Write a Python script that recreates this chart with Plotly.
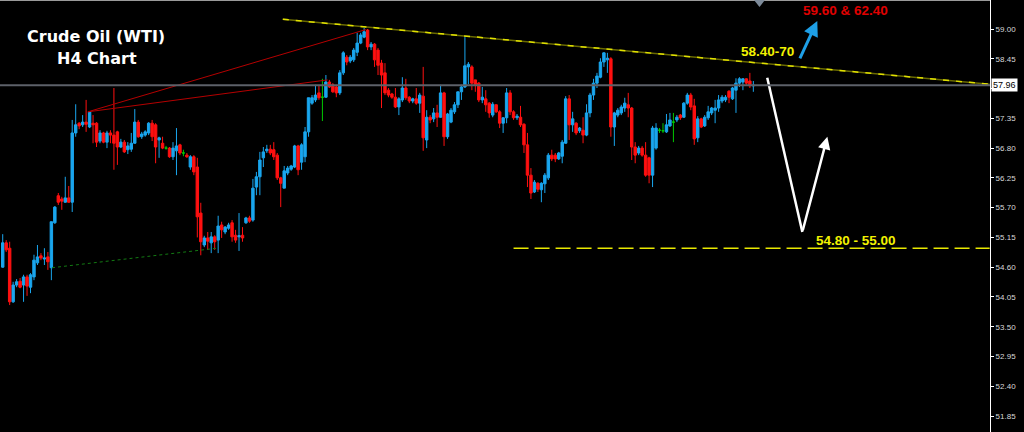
import plotly.graph_objects as go

# H4 candles (price units)
OPEN = [
    54.60, 55.05, 54.95, 53.96, 54.27, 54.34, 54.27, 54.42, 54.23, 54.42,
    54.68, 54.81, 54.75, 54.79, 54.59, 55.42, 55.92, 55.86, 55.80, 55.88,
    55.80, 57.08, 57.26, 57.23, 57.28, 57.19, 57.26, 57.26, 56.93, 57.08,
    56.91, 57.08, 57.04, 57.10, 56.82, 56.91, 56.77, 56.78, 56.89, 57.28,
    57.01, 57.04, 57.08, 57.26, 57.23, 56.95, 56.89, 56.80, 56.80, 56.64,
    56.75, 56.86, 56.71, 56.67, 56.45, 56.64, 56.45, 55.60, 55.01, 55.14,
    55.05, 55.16, 55.10, 55.38, 55.25, 55.32, 55.42, 55.19, 55.16, 55.19,
    55.42, 55.51, 55.47, 56.08, 56.27, 56.62, 56.75, 56.78, 56.77, 56.67,
    56.25, 56.06, 56.34, 56.41, 56.45, 56.84, 56.54, 56.64, 57.10, 57.63,
    57.69, 57.82, 57.74, 57.74, 58.02, 57.97, 57.93, 57.82, 58.19, 58.48,
    58.41, 58.43, 58.57, 58.74, 58.85, 58.98, 58.67, 58.72, 58.61, 58.37,
    58.19, 57.87, 57.80, 57.74, 57.56, 57.69, 57.91, 57.74, 57.67, 57.71,
    57.63, 57.76, 56.95, 57.37, 57.34, 57.45, 57.37, 57.82, 57.01, 57.28,
    57.47, 57.60, 57.84, 57.93, 58.30, 58.30, 58.06, 58.00, 57.69, 57.71,
    57.63, 57.41, 57.60, 57.47, 57.26, 57.36, 57.82, 57.47, 57.36, 57.37,
    57.24, 56.86, 56.30, 55.99, 56.15, 56.03, 56.14, 56.25, 56.67, 56.67,
    56.60, 56.65, 56.89, 57.71, 57.23, 57.26, 57.12, 57.13, 57.04, 57.45,
    57.78, 58.00, 58.11, 58.39, 58.43, 58.45, 57.19, 57.41, 57.45, 57.54,
    57.60, 57.54, 56.82, 56.71, 56.80, 56.67, 56.62, 56.30, 56.80, 57.13,
    57.12, 57.10, 57.21, 57.28, 57.32, 57.41, 57.37, 57.63, 57.78, 57.58,
    56.99, 57.34, 57.21, 57.36, 57.45, 57.50, 57.54, 57.67, 57.69, 57.85,
    57.71, 57.87, 58.00, 58.02, 58.08, 58.04, 57.95,
]
HIGH = [
    55.21, 55.10, 55.07, 54.33, 54.38, 54.40, 54.46, 54.46, 54.49, 54.83,
    55.01, 54.86, 54.95, 54.88, 55.44, 55.73, 55.97, 55.90, 56.27, 56.10,
    57.32, 57.61, 57.28, 57.41, 57.69, 57.47, 57.41, 57.28, 57.13, 57.10,
    57.12, 57.13, 57.91, 57.12, 56.97, 56.95, 56.91, 57.08, 57.52, 57.32,
    57.10, 57.13, 57.28, 57.32, 57.26, 57.01, 57.01, 56.84, 56.82, 56.91,
    57.17, 56.88, 56.77, 56.71, 56.67, 56.67, 56.62, 55.79, 55.18, 55.25,
    55.25, 55.19, 55.55, 55.44, 55.36, 55.42, 55.47, 55.29, 55.60, 55.34,
    55.53, 55.55, 56.23, 56.36, 56.73, 56.82, 56.86, 56.86, 56.91, 56.71,
    56.27, 56.47, 56.47, 56.49, 56.86, 56.86, 56.89, 57.19, 57.73, 57.78,
    57.97, 57.97, 58.08, 58.15, 58.06, 58.00, 57.97, 58.24, 58.59, 58.52,
    58.52, 58.65, 58.93, 58.93, 59.02, 59.00, 58.76, 58.74, 58.65, 58.43,
    58.37, 57.91, 57.82, 57.91, 57.74, 58.11, 58.08, 57.76, 57.73, 57.91,
    57.82, 58.30, 57.50, 57.41, 57.54, 57.60, 57.97, 57.84, 57.45, 57.54,
    57.65, 57.84, 57.97, 58.85, 58.39, 58.33, 58.06, 58.02, 57.93, 57.87,
    57.65, 57.65, 57.61, 57.50, 57.37, 57.91, 57.87, 57.50, 57.43, 57.58,
    57.26, 57.08, 56.43, 56.21, 56.17, 56.17, 56.34, 56.71, 56.77, 56.71,
    56.73, 56.95, 57.76, 57.78, 57.47, 57.28, 57.19, 57.37, 57.61, 57.82,
    58.08, 58.19, 58.46, 58.57, 58.56, 58.48, 57.47, 57.54, 57.60, 57.73,
    57.82, 57.56, 56.91, 56.84, 56.84, 56.91, 56.64, 57.21, 57.26, 57.17,
    57.26, 57.43, 57.45, 57.45, 57.41, 57.43, 57.65, 57.82, 57.82, 57.71,
    57.39, 57.36, 57.41, 57.58, 57.56, 57.69, 57.78, 57.78, 57.78, 57.87,
    57.93, 58.09, 58.11, 58.09, 58.09, 58.19, 58.04,
]
LOW = [
    54.59, 54.88, 53.90, 53.94, 54.23, 54.21, 53.96, 54.07, 54.12, 54.36,
    54.64, 54.73, 54.64, 54.55, 54.36, 55.40, 55.75, 55.66, 55.79, 55.79,
    55.62, 57.01, 57.15, 57.19, 57.10, 57.17, 56.89, 56.82, 56.89, 56.89,
    56.80, 56.89, 56.40, 56.49, 56.80, 56.71, 56.69, 56.73, 56.88, 56.99,
    56.97, 57.01, 57.04, 56.93, 56.52, 56.62, 56.78, 56.77, 56.62, 56.58,
    56.30, 56.67, 56.65, 56.62, 56.40, 56.30, 55.15, 54.82, 54.97, 54.92,
    54.86, 54.92, 54.86, 55.14, 55.21, 55.29, 55.07, 55.05, 54.90, 55.07,
    55.40, 55.42, 55.44, 55.93, 55.93, 56.45, 56.71, 56.67, 56.58, 56.21,
    55.71, 56.06, 56.30, 56.38, 56.43, 56.30, 56.40, 56.54, 57.01, 57.60,
    57.65, 57.69, 57.30, 57.73, 57.91, 57.82, 57.74, 57.78, 58.15, 58.33,
    58.37, 58.39, 58.50, 58.72, 58.83, 58.61, 58.61, 58.30, 58.15, 57.54,
    57.78, 57.74, 57.71, 57.54, 57.41, 57.65, 57.69, 57.63, 57.63, 57.60,
    57.45, 56.75, 56.80, 57.26, 57.28, 57.19, 57.36, 56.84, 56.97, 57.26,
    57.43, 57.54, 57.69, 57.91, 57.98, 57.87, 57.84, 57.65, 57.63, 57.47,
    57.36, 57.37, 57.45, 57.17, 57.08, 57.26, 57.41, 57.32, 57.32, 57.19,
    56.71, 56.08, 55.86, 55.97, 55.99, 55.80, 55.97, 56.21, 56.56, 56.54,
    56.58, 56.52, 56.88, 56.95, 57.10, 57.04, 57.08, 56.89, 57.02, 57.37,
    57.69, 57.91, 58.09, 58.30, 58.19, 57.01, 56.84, 57.37, 57.41, 57.47,
    57.37, 56.58, 56.52, 56.67, 56.64, 56.27, 56.15, 56.08, 56.77, 57.08,
    57.08, 57.08, 57.19, 56.91, 57.28, 57.32, 57.36, 57.60, 57.50, 56.86,
    56.91, 57.17, 57.19, 57.32, 57.41, 57.26, 57.47, 57.63, 57.65, 57.63,
    57.69, 57.45, 57.93, 57.87, 57.97, 57.91, 57.84,
]
CLOSE = [
    55.05, 54.92, 53.96, 54.27, 54.33, 54.23, 54.42, 54.25, 54.46, 54.73,
    54.79, 54.77, 54.77, 54.70, 55.44, 55.71, 55.80, 55.82, 55.88, 55.80,
    57.08, 57.23, 57.21, 57.28, 57.24, 57.47, 57.23, 56.91, 57.08, 56.91,
    57.08, 57.04, 56.89, 56.82, 56.91, 56.73, 56.84, 56.89, 57.28, 57.01,
    57.06, 57.10, 57.26, 57.01, 56.82, 56.99, 56.80, 56.80, 56.64, 56.80,
    56.84, 56.71, 56.71, 56.64, 56.64, 56.36, 55.53, 55.07, 55.14, 55.08,
    55.16, 55.07, 55.36, 55.29, 55.34, 55.38, 55.16, 55.10, 55.18, 55.14,
    55.51, 55.45, 56.06, 56.27, 56.58, 56.73, 56.78, 56.71, 56.64, 56.25,
    56.15, 56.38, 56.43, 56.47, 56.84, 56.40, 56.86, 57.10, 57.73, 57.73,
    57.78, 57.73, 57.74, 58.02, 57.93, 57.84, 57.82, 58.19, 58.56, 58.39,
    58.48, 58.61, 58.74, 58.89, 58.95, 58.67, 58.72, 58.43, 58.33, 58.15,
    57.82, 57.78, 57.74, 57.56, 57.71, 57.91, 57.73, 57.67, 57.71, 57.63,
    57.78, 56.99, 57.37, 57.32, 57.45, 57.37, 57.82, 57.01, 57.43, 57.50,
    57.60, 57.84, 57.93, 58.32, 58.35, 58.00, 57.97, 57.69, 57.74, 57.60,
    57.45, 57.61, 57.47, 57.26, 57.36, 57.82, 57.47, 57.36, 57.39, 57.23,
    56.86, 56.30, 55.97, 56.17, 56.04, 56.15, 56.30, 56.67, 56.60, 56.60,
    56.71, 56.91, 57.71, 57.23, 57.34, 57.08, 57.17, 57.04, 57.45, 57.78,
    58.00, 58.13, 58.39, 58.56, 58.46, 57.19, 57.45, 57.50, 57.56, 57.63,
    57.54, 56.82, 56.67, 56.80, 56.67, 56.30, 56.30, 57.17, 57.17, 57.13,
    57.12, 57.23, 57.32, 57.28, 57.37, 57.36, 57.63, 57.78, 57.56, 56.97,
    57.34, 57.19, 57.37, 57.47, 57.54, 57.54, 57.69, 57.74, 57.74, 57.74,
    57.91, 58.00, 58.08, 58.08, 58.00, 57.95, 57.96,
]

PRICE_TICKS = [59.00, 58.45, 57.90, 57.35, 56.80, 56.25, 55.70,
               55.15, 54.60, 54.05, 53.50, 52.95, 52.40, 51.85]
LAST_PRICE = 57.96
SUPPORT_LEVEL = 54.95

# drawn studies, (bar index, price)
TREND_X, TREND_Y = [80.6, 284.0], [59.18, 57.98]
RED_A_X, RED_A_Y = [24.5, 104.5], [57.47, 58.99]
RED_B_X, RED_B_Y = [24.5, 93.5], [57.47, 58.06]
GREEN_X, GREEN_Y = [14.2, 61.6], [54.59, 54.95]
DOWN_LEG_X, DOWN_LEG_Y = [220.0, 230.1], [58.10, 55.25]
UP_LEG_X, UP_LEG_Y = [230.1, 237.3], [55.25, 57.01]
BREAK_X, BREAK_Y = [229.2, 234.4], [58.43, 59.15]

BLUE = "#1aa6ee"
RED = "#ff1010"
GREEN = "#00c800"
PLOT_W, H = 990, 432


def fx(px):
    return px / PLOT_W


def fy(py):
    return 1 - py / H


def candles(ids, color):
    style = dict(line=dict(color=color, width=1), fillcolor=color)
    return go.Candlestick(
        x=ids,
        open=[OPEN[i] for i in ids], high=[HIGH[i] for i in ids],
        low=[LOW[i] for i in ids], close=[CLOSE[i] for i in ids],
        increasing=style, decreasing=style,
        whiskerwidth=0, hoverinfo="skip", showlegend=False,
    )


idx = range(len(CLOSE))
up = [i for i in idx if CLOSE[i] > OPEN[i]]
down = [i for i in idx if CLOSE[i] < OPEN[i]]
doji = [i for i in idx if CLOSE[i] == OPEN[i]]

fig = go.Figure([candles(up, BLUE), candles(down, RED), candles(doji, GREEN)])


def seg(xs, ys, color, width, dash="solid"):
    fig.add_trace(go.Scatter(
        x=xs, y=ys, mode="lines", hoverinfo="skip", showlegend=False,
        line=dict(color=color, width=width, dash=dash),
    ))


seg(RED_A_X, RED_A_Y, "#b40000", 1)
seg(RED_B_X, RED_B_Y, "#b40000", 1)
seg(GREEN_X, GREEN_Y, "#137a13", 1, "dot")
seg(TREND_X, TREND_Y, "#6a6a00", 1.5)
seg(TREND_X, TREND_Y, "#e0e000", 1.5, "6px,7px")
seg([147.0, 284.0], [SUPPORT_LEVEL, SUPPORT_LEVEL], "#e8e800", 1.3, "15px,6px")
seg(DOWN_LEG_X, DOWN_LEG_Y, "white", 2.5)

fig.add_shape(type="line", xref="paper", x0=0, x1=1, yref="y",
              y0=LAST_PRICE, y1=LAST_PRICE, line=dict(color="#5d6169", width=2))
fig.add_shape(type="line", xref="paper", x0=0, x1=1, yref="paper",
              y0=fy(0.5), y1=fy(0.5), line=dict(color="#9a9a9a", width=1))
fig.add_shape(type="path", xref="paper", yref="paper", fillcolor="#7d8a99",
              line=dict(width=0),
              path=f"M {fx(754)},{fy(0)} L {fx(765)},{fy(0)} L {fx(759.5)},{fy(7)} Z")

arrow = dict(xref="x", yref="y", axref="x", ayref="y", text="", showarrow=True,
             arrowhead=2, arrowsize=1)
fig.add_annotation(x=UP_LEG_X[1], y=UP_LEG_Y[1], ax=UP_LEG_X[0], ay=UP_LEG_Y[0],
                   arrowcolor="white", arrowwidth=2.5, **arrow)
fig.add_annotation(x=BREAK_X[1], y=BREAK_Y[1], ax=BREAK_X[0], ay=BREAK_Y[0],
                   arrowcolor="#1e9fe6", arrowwidth=3, **arrow)

bold = "Liberation Sans, Arial, sans-serif"
wide = "DejaVu Sans, Verdana, sans-serif"
texts = [
    ("Crude Oil (WTI)", 96, 36, "white", 16, wide),
    ("H4 Chart", 97, 58, "white", 16, wide),
    ("58.40-70", 767, 51, "#f2f200", 13.5, bold),
    ("59.60 & 62.40", 845, 11, "#e00000", 13.5, bold),
    ("54.80 - 55.00", 856, 240, "#f2f200", 13.5, bold),
]
for txt, x, y, color, size, family in texts:
    fig.add_annotation(
        xref="paper", yref="paper", x=fx(x), y=fy(y), showarrow=False,
        xanchor="center", yanchor="middle",
        text=f"<b>{txt}</b>", font=dict(family=family, size=size, color=color),
    )

fig.add_annotation(
    xref="paper", yref="y", x=1, y=LAST_PRICE, xanchor="left", xshift=1,
    showarrow=False, text=f"{LAST_PRICE:.2f}", bgcolor="white",
    font=dict(family=bold, size=9, color="black"), borderpad=1,
)

# the 57.90 label sits under the last-price box, as on the terminal
tick_text = ["" if abs(v - 57.90) < 1e-9 else f"{v:.2f}" for v in PRICE_TICKS]

fig.update_layout(
    width=1024, height=432,
    paper_bgcolor="black", plot_bgcolor="black",
    margin=dict(l=0, r=34, t=0, b=0),
    boxgap=0.3, boxgroupgap=0,
    showlegend=False,
    xaxis=dict(range=[-0.78, 284.1], visible=False, rangeslider=dict(visible=False)),
    yaxis=dict(
        range=[51.555, 59.536], side="right", showgrid=False, zeroline=False,
        tickvals=PRICE_TICKS, ticktext=tick_text,
        ticks="outside", ticklen=3, tickcolor="white",
        showline=True, linecolor="white", linewidth=1,
        tickfont=dict(family=bold, size=8, color="#d8d8d8"),
    ),
)

fig.write_html("out.html", config={"displayModeBar": False},
               post_script="document.body.style.margin='0';")
